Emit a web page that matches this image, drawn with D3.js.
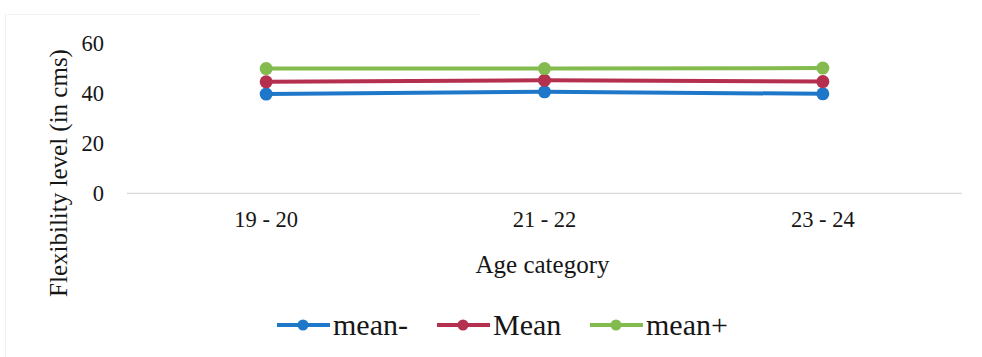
<!DOCTYPE html>
<html>
<head>
<meta charset="utf-8">
<script src="https://cdn.jsdelivr.net/npm/d3@7"></script>
<style>
  html, body { margin: 0; padding: 0; background: #fff; }
  svg { display: block; font-family: "Liberation Serif", "Times New Roman", serif; }
</style>
</head>
<body>
<svg id="chart" width="982" height="357"></svg>
<script>
// Age groups on the x axis
const categories = ["19 - 20", "21 - 22", "23 - 24"];
// Flexibility (cm) per age group
const meanMinus = [39.7, 40.6, 39.8];
const meanValues = [44.6, 45.2, 44.7];
const meanPlus = [49.9, 49.9, 50.1];
const yTicks = [0, 20, 40, 60];
const seriesNames = ["mean-", "Mean", "mean+"];
const seriesColors = ["#1f77c9", "#b5304f", "#84bb4e"];

const series = [
  { name: seriesNames[0], color: seriesColors[0], values: meanMinus },
  { name: seriesNames[1], color: seriesColors[1], values: meanValues },
  { name: seriesNames[2], color: seriesColors[2], values: meanPlus }
];

const svg = d3.select("#chart");
const textColor = "#161616";
const serif = "Liberation Serif, serif";

const x = d3.scaleBand().domain(categories).range([127, 962]);
const y = d3.scaleLinear().domain([0, 60]).range([193.3, 43.3]);

// faint frame edges of the chart area
svg.append("line")
  .attr("x1", 5.5).attr("x2", 5.5).attr("y1", 14).attr("y2", 357)
  .attr("stroke", "#efefef").attr("stroke-width", 1);
svg.append("line")
  .attr("x1", 5).attr("x2", 480).attr("y1", 14.5).attr("y2", 14.5)
  .attr("stroke", "#f3f3f3").attr("stroke-width", 1);

// baseline at zero
svg.append("line")
  .attr("x1", x.range()[0]).attr("x2", x.range()[1])
  .attr("y1", y(0)).attr("y2", y(0))
  .attr("stroke", "#d9d9d9").attr("stroke-width", 1.2);

// y axis labels
const yAxis = d3.axisLeft(y).tickValues(yTicks).tickSize(0).tickPadding(0);
const gy = svg.append("g").attr("transform", "translate(104,0)").call(yAxis);
gy.select(".domain").remove();
gy.selectAll("text")
  .attr("font-size", 22.5).attr("fill", textColor)
  .attr("font-family", serif);

// x axis labels
const xAxis = d3.axisBottom(x).tickSize(0).tickPadding(0);
const gx = svg.append("g").attr("transform", "translate(0,211)").call(xAxis);
gx.select(".domain").remove();
gx.selectAll("text")
  .attr("font-size", 22.5).attr("fill", textColor)
  .attr("font-family", serif);

// axis titles
svg.append("text")
  .attr("x", x(categories[1]) + x.bandwidth() / 2 - 2).attr("y", 273)
  .attr("text-anchor", "middle").attr("font-size", 25).attr("fill", textColor)
  .attr("font-family", serif)
  .text("Age category");
svg.append("text")
  .attr("transform", "translate(67,173) rotate(-90)")
  .attr("text-anchor", "middle").attr("font-size", 25).attr("fill", textColor)
  .attr("font-family", serif)
  .text("Flexibility level (in cms)");

// lines and markers
const line = d3.line()
  .x((d, i) => x(categories[i]) + x.bandwidth() / 2)
  .y(d => y(d));

series.forEach(s => {
  svg.append("path")
    .datum(s.values)
    .attr("d", line)
    .attr("fill", "none")
    .attr("stroke", s.color)
    .attr("stroke-width", 4);
  svg.selectAll(null)
    .data(s.values)
    .enter().append("circle")
    .attr("cx", (d, i) => x(categories[i]) + x.bandwidth() / 2)
    .attr("cy", d => y(d))
    .attr("r", 6.5)
    .attr("fill", s.color);
});

// legend
const legendX = [277, 437, 590];
const legend = svg.append("g");
series.forEach((s, i) => {
  const g = legend.append("g").attr("transform", `translate(${legendX[i]},325)`);
  g.append("line").attr("x1", 0).attr("x2", 53).attr("y1", 0).attr("y2", 0)
    .attr("stroke", s.color).attr("stroke-width", 4);
  g.append("circle").attr("cx", 26).attr("cy", 0).attr("r", 5.5).attr("fill", s.color);
  g.append("text").attr("x", 56).attr("y", 10)
    .attr("font-size", 30).attr("fill", textColor)
    .attr("font-family", serif)
    .text(s.name);
});
</script>
</body>
</html>
